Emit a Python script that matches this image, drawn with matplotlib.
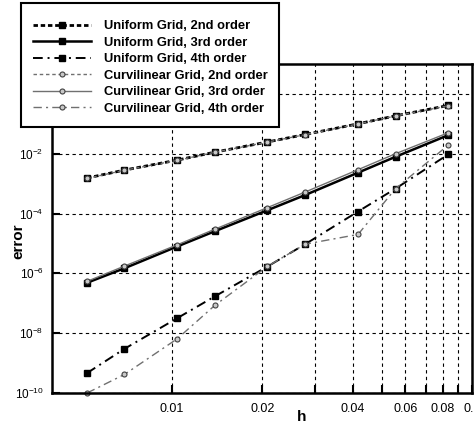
import matplotlib
matplotlib.use("Agg")
import matplotlib.pyplot as plt
from matplotlib.ticker import FixedLocator, FixedFormatter, NullLocator

plt.rcParams['font.family'] = ['Liberation Sans', 'DejaVu Sans']
plt.rcParams['mathtext.default'] = 'regular'

# Data
h = [0.00521, 0.00694, 0.0104, 0.0139, 0.0208, 0.0278, 0.0417, 0.0556, 0.0833]
uniform_2nd = [1.54e-3, 2.84e-3, 6.1e-3, 1.13e-2, 2.47e-2, 4.4e-2, 1.0e-1, 1.85e-1, 4.1e-1]
uniform_3rd = [4.86e-7, 1.48e-6, 7.9e-6, 2.57e-5, 1.29e-4, 4.17e-4, 2.33e-3, 7.9e-3, 4.17e-2]
uniform_4th = [4.65e-10, 3.0e-9, 3.16e-8, 1.71e-7, 1.69e-6, 9.48e-6, 1.17e-4, 6.81e-4, 9.48e-3]
curv_2nd = [1.5e-3, 2.8e-3, 6.0e-3, 1.12e-2, 2.45e-2, 4.35e-2, 9.9e-2, 1.83e-1, 4.0e-1]
curv_3rd = [5.41e-7, 1.75e-6, 8.97e-6, 3.0e-5, 1.58e-4, 5.25e-4, 2.93e-3, 1.0e-2, 5.01e-2]
curv_4th = [1.0e-10, 4.17e-10, 6.46e-9, 8.57e-8, 1.71e-6, 9.48e-6, 2.0e-5, 6.81e-4, 1.94e-2]

labels = ['Uniform Grid, 2nd order', 'Uniform Grid, 3rd order', 'Uniform Grid, 4th order',
          'Curvilinear Grid, 2nd order', 'Curvilinear Grid, 3rd order', 'Curvilinear Grid, 4th order']

xticks = [0.01, 0.02, 0.03, 0.04, 0.05, 0.06, 0.07, 0.08, 0.09, 0.1]
xticklabels = ['0.01', '0.02', '', '0.04', '', '0.06', '', '0.08', '', '0.1']
yticks = [1e-10, 1e-8, 1e-6, 1e-4, 1e-2, 1e0]
yticklabels = ['$10^{-10}$', '$10^{-8}$', '$10^{-6}$', '$10^{-4}$', '$10^{-2}$', '$10^{0}$']

W, H = 474, 425
fig = plt.figure(figsize=(W / 100, H / 100), dpi=100)
ax = fig.add_axes([52 / W, (H - 393) / H, 420 / W, 329 / H])

u_kw = dict(color='black', marker='s', markersize=4.8, markerfacecolor='black',
            markeredgecolor='black', clip_on=False)
c_kw = dict(color='#707070', marker='o', markersize=3.6, markerfacecolor='#c8c8c8',
            markeredgecolor='#404040', markeredgewidth=0.8, clip_on=False)

l1, = ax.plot(h, uniform_2nd, linestyle=(0, (1.6, 1.0)), linewidth=2.0, label=labels[0], zorder=3, **u_kw)
l2, = ax.plot(h, uniform_3rd, linestyle='-', linewidth=1.8, label=labels[1], zorder=3, **u_kw)
l3, = ax.plot(h, uniform_4th, linestyle=(0, (5, 2.5, 1, 2.5)), linewidth=1.4, label=labels[2], zorder=3, **u_kw)
l4, = ax.plot(h, curv_2nd, linestyle=(0, (2.5, 2.0)), linewidth=1.0, label=labels[3], zorder=4, **c_kw)
l5, = ax.plot(h, curv_3rd, linestyle='-', linewidth=1.0, label=labels[4], zorder=4, **c_kw)
l6, = ax.plot(h, curv_4th, linestyle=(0, (6, 3, 1.5, 3)), linewidth=1.0, label=labels[5], zorder=4, **c_kw)

ax.set_xscale('log')
ax.set_yscale('log')
ax.set_xlim(0.00398, 0.1)
ax.set_ylim(1e-10, 10)

ax.xaxis.set_major_locator(FixedLocator(xticks))
ax.xaxis.set_major_formatter(FixedFormatter(xticklabels))
ax.xaxis.set_minor_locator(NullLocator())
ax.yaxis.set_major_locator(FixedLocator(yticks))
ax.yaxis.set_major_formatter(FixedFormatter(yticklabels))
ax.yaxis.set_minor_locator(NullLocator())

ax.tick_params(axis='x', direction='in', length=6, width=1.5, labelsize=9, pad=7)
ax.tick_params(axis='y', direction='in', length=6, width=1.5, labelsize=8.5, pad=6)

ax.grid(True, which='major', color='black', linestyle=(0, (3, 3)), linewidth=0.8)
ax.set_axisbelow(True)

for s in ax.spines.values():
    s.set_linewidth(1.8)
    s.set_zorder(5)

ax.set_xlabel('h', fontsize=11, fontweight='bold', va='center')
ax.xaxis.set_label_coords((302 - 52) / 420, (393 - 417) / 329)
ax.set_ylabel('error', fontsize=11, fontweight='bold', va='center')
ax.yaxis.set_label_coords((18.5 - 52) / 420, (393 - 241) / 329)

leg = fig.legend(handles=[l1, l2, l3, l4, l5, l6], loc='upper left',
                 bbox_to_anchor=(21 / W, 1 - 3 / H), bbox_transform=fig.transFigure,
                 prop=dict(size=9.3, weight='bold'), frameon=True, fancybox=False,
                 edgecolor='black', framealpha=1, handlelength=4.5, handletextpad=1.0,
                 labelspacing=0.35, borderpad=0.9, borderaxespad=0,
                 title=' ', title_fontsize=1)
leg.get_frame().set_linewidth(1.5)
leg.set_zorder(10)

fig.savefig('out.png', dpi=100)
